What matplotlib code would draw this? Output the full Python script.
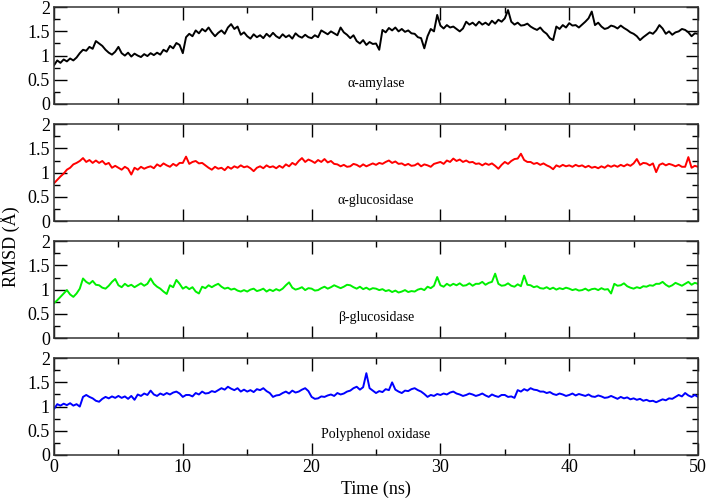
"""Four-panel RMSD traces (50 ns MD) for the enzyme complexes."""

import matplotlib
matplotlib.use("Agg")
import matplotlib.pyplot as plt
from matplotlib.ticker import MultipleLocator, FuncFormatter
import numpy as np

plt.rcParams["font.family"] = ["Liberation Serif", "DejaVu Serif"]

TIME_STEP = 0.25  # ns between read-off samples

AMYLASE = [
    0.80, 0.90, 0.85, 0.92, 0.88, 0.94, 0.90, 0.96, 1.05, 1.12,
    1.10, 1.18, 1.14, 1.30, 1.25, 1.20, 1.12, 1.06, 1.02, 1.08,
    1.18, 1.05, 1.00, 1.06, 0.98, 1.04, 1.00, 0.97, 1.03, 0.99,
    1.05, 1.01, 1.06, 1.02, 1.12, 1.08, 1.20, 1.15, 1.26, 1.22,
    1.05, 1.38, 1.45, 1.40, 1.52, 1.46, 1.55, 1.50, 1.58, 1.48,
    1.40, 1.47, 1.52, 1.45, 1.58, 1.65, 1.55, 1.60, 1.43, 1.48,
    1.40, 1.35, 1.44, 1.38, 1.42, 1.36, 1.45, 1.39, 1.47, 1.40,
    1.36, 1.44, 1.38, 1.42, 1.35, 1.46, 1.40, 1.37, 1.43, 1.38,
    1.36, 1.42, 1.38, 1.52, 1.48, 1.44, 1.50, 1.46, 1.42, 1.58,
    1.48, 1.43, 1.36, 1.42, 1.30, 1.25, 1.32, 1.22, 1.28, 1.24,
    1.25, 1.12, 1.53, 1.48, 1.57, 1.52, 1.58, 1.50, 1.55, 1.49,
    1.52, 1.46, 1.45, 1.38, 1.36, 1.15, 1.40, 1.55, 1.50, 1.84,
    1.62, 1.56, 1.63, 1.58, 1.60, 1.55, 1.50, 1.56, 1.70, 1.64,
    1.68, 1.62, 1.70, 1.64, 1.68, 1.63, 1.72, 1.66, 1.74, 1.70,
    1.77, 1.94, 1.70, 1.64, 1.68, 1.62, 1.63, 1.66, 1.60, 1.56,
    1.53, 1.58, 1.50, 1.45, 1.36, 1.32, 1.60, 1.55, 1.63, 1.58,
    1.67, 1.62, 1.63, 1.58, 1.64, 1.70, 1.77, 1.91, 1.63, 1.68,
    1.60, 1.55, 1.57, 1.62, 1.60, 1.56, 1.62, 1.57, 1.53, 1.48,
    1.45, 1.40, 1.32, 1.38, 1.43, 1.48, 1.45, 1.52, 1.63, 1.56,
    1.45, 1.50, 1.43, 1.48, 1.50, 1.55, 1.53, 1.48, 1.40, 1.46,
    1.45,
]

A_GLUCOSIDASE = [
    0.78, 0.85, 0.92, 0.98, 1.06, 1.10, 1.17, 1.20, 1.24, 1.30,
    1.22, 1.26, 1.20, 1.25, 1.20, 1.24, 1.17, 1.20, 1.10, 1.14,
    1.10, 1.06, 1.12, 1.08, 0.96, 1.10, 1.06, 1.12, 1.08, 1.11,
    1.13, 1.09, 1.17, 1.13, 1.19, 1.15, 1.12, 1.18, 1.14, 1.20,
    1.20, 1.33, 1.18, 1.22, 1.24, 1.19, 1.20, 1.15, 1.10, 1.06,
    1.12, 1.08, 1.10, 1.05, 1.12, 1.08, 1.13, 1.10, 1.15, 1.11,
    1.13, 1.09, 1.03, 1.10, 1.13, 1.09, 1.15, 1.11, 1.13, 1.09,
    1.14, 1.10, 1.17, 1.13, 1.20, 1.16, 1.24, 1.30, 1.22, 1.27,
    1.24, 1.20, 1.26, 1.22, 1.28, 1.21, 1.24, 1.18, 1.17, 1.13,
    1.16, 1.12, 1.13, 1.18, 1.16, 1.12, 1.17, 1.13, 1.16, 1.19,
    1.16, 1.20, 1.18, 1.22, 1.25, 1.20, 1.23, 1.18, 1.19, 1.15,
    1.18, 1.14, 1.15, 1.19, 1.13, 1.17, 1.15, 1.12, 1.18, 1.20,
    1.22, 1.18, 1.25, 1.22, 1.29, 1.24, 1.27, 1.22, 1.25, 1.21,
    1.22, 1.18, 1.19, 1.15, 1.19, 1.16, 1.19, 1.14, 1.08, 1.16,
    1.22, 1.18, 1.24, 1.28, 1.29, 1.39, 1.26, 1.22, 1.22, 1.18,
    1.20, 1.16, 1.19, 1.15, 1.12, 1.07, 1.15, 1.12, 1.16, 1.13,
    1.15, 1.12, 1.16, 1.13, 1.15, 1.11, 1.14, 1.10, 1.12, 1.09,
    1.13, 1.10, 1.15, 1.12, 1.15, 1.12, 1.16, 1.13, 1.17, 1.14,
    1.19, 1.28, 1.16, 1.20, 1.19, 1.15, 1.19, 1.01, 1.16, 1.19,
    1.15, 1.18, 1.16, 1.13, 1.16, 1.12, 1.12, 1.32, 1.10, 1.14,
    1.12,
]

B_GLUCOSIDASE = [
    0.72, 0.78, 0.85, 0.92, 0.99, 0.90, 0.85, 0.92, 1.02, 1.23,
    1.16, 1.12, 1.18, 1.10, 1.09, 1.04, 1.02, 1.08, 1.16, 1.22,
    1.09, 1.05, 1.12, 1.07, 1.10, 1.05, 1.09, 1.13, 1.08, 1.12,
    1.23, 1.12, 1.06, 1.02, 0.96, 0.91, 1.09, 1.05, 1.20, 1.12,
    1.02, 1.06, 1.01, 1.05, 0.96, 0.92, 1.06, 1.03, 1.09, 1.05,
    1.09, 1.12, 1.06, 1.02, 1.04, 1.00, 1.02, 0.98, 0.96, 0.99,
    0.96, 1.00, 1.02, 0.97, 0.99, 1.02, 0.96, 1.00, 0.97, 1.01,
    0.98, 1.02, 1.09, 1.15, 1.04, 1.00, 1.02, 1.05, 0.99, 1.03,
    1.02, 0.98, 0.99, 1.03, 1.06, 1.02, 1.05, 1.09, 1.06, 1.03,
    1.06, 1.10, 1.09, 1.05, 1.02, 1.06, 1.01, 1.04, 1.00, 1.03,
    1.02, 0.99, 1.01, 0.97, 0.99, 0.95, 0.98, 0.94, 0.96, 0.99,
    0.95, 0.97, 0.96, 1.00, 1.02, 0.99, 1.06, 1.03, 1.08, 1.26,
    1.09, 1.06, 1.12, 1.08, 1.12, 1.09, 1.13, 1.08, 1.09, 1.13,
    1.08, 1.12, 1.12, 1.16, 1.10, 1.14, 1.16, 1.33, 1.12, 1.08,
    1.09, 1.13, 1.08, 1.06, 1.11, 1.07, 1.29, 1.10, 1.09, 1.05,
    1.07, 1.03, 1.02, 1.05, 1.01, 1.04, 1.00, 1.03, 1.01, 1.04,
    1.02, 0.99, 1.01, 0.98, 0.99, 1.02, 0.98, 1.01, 1.02, 0.99,
    1.03, 1.00, 1.01, 0.92, 1.12, 1.08, 1.09, 1.13, 1.07, 1.04,
    1.02, 1.05, 1.03, 1.07, 1.06, 1.09, 1.08, 1.12, 1.12, 1.16,
    1.10, 1.06, 1.09, 1.14, 1.11, 1.08, 1.12, 1.16, 1.10, 1.14,
    1.12,
]

POLYPHENOL = [
    0.95, 1.05, 1.02, 1.06, 1.03, 1.07, 1.02, 1.05, 1.00, 1.20,
    1.24, 1.20, 1.17, 1.12, 1.10, 1.16, 1.20, 1.17, 1.21, 1.18,
    1.22, 1.18, 1.21, 1.16, 1.22, 1.14, 1.25, 1.22, 1.27, 1.24,
    1.33, 1.25, 1.22, 1.27, 1.24, 1.28, 1.25, 1.29, 1.31, 1.27,
    1.20, 1.24, 1.24, 1.21, 1.28, 1.25, 1.31, 1.27, 1.28, 1.32,
    1.30, 1.34, 1.38, 1.35, 1.41, 1.37, 1.34, 1.38, 1.31, 1.35,
    1.31, 1.34, 1.30, 1.36, 1.34, 1.38, 1.32, 1.28, 1.20, 1.23,
    1.24, 1.28, 1.31, 1.27, 1.33, 1.29, 1.31, 1.35, 1.38, 1.32,
    1.20, 1.16, 1.17, 1.21, 1.20, 1.23, 1.25, 1.22, 1.28, 1.25,
    1.27, 1.31, 1.33, 1.38, 1.41, 1.35, 1.40, 1.69, 1.38, 1.33,
    1.28, 1.32, 1.30, 1.36, 1.34, 1.50, 1.35, 1.31, 1.28, 1.33,
    1.32, 1.36, 1.38, 1.34, 1.31, 1.26, 1.20, 1.24, 1.22, 1.26,
    1.24, 1.27, 1.25, 1.29, 1.31, 1.27, 1.25, 1.22, 1.24, 1.27,
    1.25, 1.22, 1.24, 1.27, 1.23, 1.20, 1.25, 1.22, 1.20, 1.24,
    1.24, 1.20, 1.21, 1.18, 1.34, 1.31, 1.36, 1.33, 1.38, 1.35,
    1.34, 1.31, 1.31, 1.28, 1.30, 1.26, 1.24, 1.27, 1.25, 1.22,
    1.24, 1.27, 1.23, 1.26, 1.24, 1.22, 1.25, 1.21, 1.20, 1.23,
    1.21, 1.18, 1.19, 1.22, 1.19, 1.16, 1.20, 1.17, 1.19, 1.15,
    1.17, 1.14, 1.16, 1.12, 1.14, 1.11, 1.12, 1.09, 1.12, 1.15,
    1.13, 1.17, 1.16, 1.20, 1.24, 1.21, 1.28, 1.23, 1.20, 1.24,
    1.20,
]

PANELS = [
    ("\u03b1-amylase", AMYLASE, "black"),
    ("\u03b1-glucosidase", A_GLUCOSIDASE, "#ff0000"),
    ("\u03b2-glucosidase", B_GLUCOSIDASE, "#00f000"),
    ("Polyphenol oxidase", POLYPHENOL, "#0000ff"),
]

# axes boxes in figure fraction (left, bottom, width, height)
BOTTOMS = [0.7916, 0.5571, 0.3226, 0.0882]
LEFT, WIDTH, HEIGHT = 0.0763, 0.9096, 0.194


def fmt(v, _pos):
    return f"{v:g}"


def main() -> None:
    fig = plt.figure(figsize=(7.08, 4.99), dpi=100)

    for i, (name, values, color) in enumerate(PANELS):
        ax = fig.add_axes([LEFT, BOTTOMS[i], WIDTH, HEIGHT])
        t = np.arange(len(values)) * TIME_STEP
        ax.plot(t, values, color=color, linewidth=1.4)
        ax.text(25, 0.43, name, ha="center", va="center", fontsize=10)

        ax.set_xlim(0, 50)
        ax.set_ylim(0, 2)
        ax.xaxis.set_major_locator(MultipleLocator(10))
        ax.xaxis.set_minor_locator(MultipleLocator(5))
        ax.yaxis.set_major_locator(MultipleLocator(0.5))
        ax.yaxis.set_minor_locator(MultipleLocator(0.25))
        ax.yaxis.set_major_formatter(FuncFormatter(fmt))
        ax.tick_params(which="both", direction="in", top=True, right=True,
                       width=1.0, labelsize=13, pad=3)
        ax.tick_params(which="major", length=9)
        ax.tick_params(which="minor", length=4.5)
        for sp in ax.spines.values():
            sp.set_linewidth(1.1)
            sp.set_color("#333333")
        if i < len(PANELS) - 1:
            ax.tick_params(labelbottom=False)
        else:
            ax.set_xlabel("Time (ns)", fontsize=13, labelpad=3)

    fig.text(0.014, 0.505, "RMSD (\u00c5)", rotation=90, ha="center",
             va="center", fontsize=13)

    fig.savefig("out.png", dpi=100)


if __name__ == "__main__":
    main()
